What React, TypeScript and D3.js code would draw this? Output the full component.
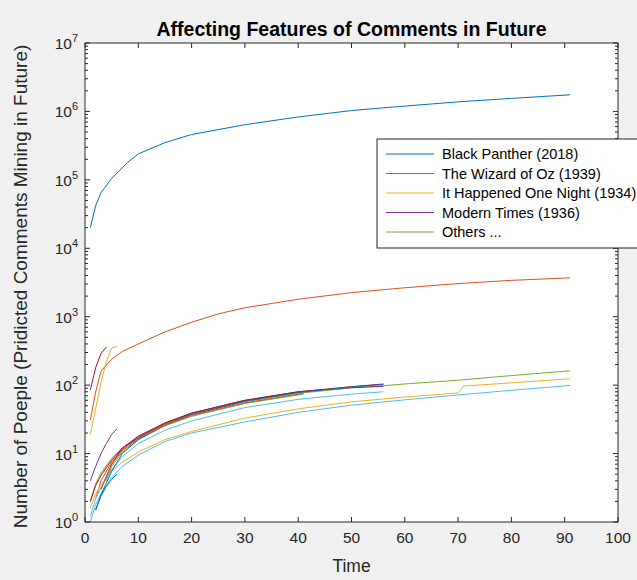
import React from 'react'
import * as d3 from 'd3'

const W = 637
const H = 580
const margin = {top: 43, right: 19, bottom: 58, left: 85}

const title = 'Affecting Features of Comments in Future'
const xLabel = 'Time'
const yLabel = 'Number of Poeple (Pridicted Comments Mining in Future)'

const xTicks = [0, 10, 20, 30, 40, 50, 60, 70, 80, 90, 100]
const yExponents = [0, 1, 2, 3, 4, 5, 6, 7]

const legendNames = [
    'Black Panther (2018)',
    'The Wizard of Oz (1939)',
    'It Happened One Night (1934)',
    'Modern Times (1936)',
    'Others ...',
]

// matlab default colour order
const colorOrder = ['#0072BD', '#D95319', '#EDB120', '#7E2F8E', '#77AC30', '#4DBEEE', '#A2142F']

type P = [number, number]

const blackPanther: P[] = [[1, 2e4], [2, 4.2e4], [3, 6.5e4], [5, 1.05e5], [6, 1.25e5], [8, 1.8e5], [10, 2.4e5], [15, 3.5e5], [20, 4.6e5], [30, 6.4e5], [40, 8.3e5], [50, 1.03e6], [56, 1.13e6], [70, 1.38e6], [80, 1.55e6], [91, 1.75e6]]
const wizardOfOz: P[] = [[1, 31], [2, 80], [3, 160], [5, 240], [7, 310], [10, 400], [15, 600], [20, 830], [25, 1100], [30, 1350], [40, 1800], [50, 2250], [60, 2650], [70, 3050], [80, 3400], [91, 3700]]
const happenedOneNight: P[] = [[1, 19], [2, 45], [3, 110], [4, 220], [5, 350], [6, 365]]
const modernTimes: P[] = [[1, 4], [2, 6.5], [3, 10], [4, 14], [5, 19], [6, 23]]
const others5: P[] = [[1, 2], [2, 3.6], [3, 5.2], [5, 8.5], [7, 12], [10, 17.5], [15, 27], [20, 37], [30, 57], [40, 76], [50, 91], [56, 98], [60, 104], [70, 118], [80, 138], [91, 162]]
const others6: P[] = [[1, 1], [2, 1.8], [3, 2.6], [5, 4.5], [7, 6.5], [10, 9.5], [15, 15], [20, 20], [30, 29], [40, 40], [50, 51], [60, 61], [70, 72], [80, 84], [91, 99]]
const others7: P[] = [[1, 85], [2, 180], [3, 290], [4, 360]]
const others8: P[] = [[2, 1.5], [3, 2.4], [4, 3.3], [5, 4.2], [6, 5]]
const others9: P[] = [[2, 2.2], [3, 4], [5, 7.5], [7, 11.5], [10, 17], [15, 27], [20, 38], [30, 59], [41, 81]]
const others10: P[] = [[1, 1.6], [2, 2.6], [3, 3.5], [5, 5.5], [7, 7.5], [10, 10.5], [15, 16], [20, 21], [30, 33], [40, 45], [50, 57], [60, 67], [70, 77], [71, 97], [80, 108], [91, 124]]
const others11: P[] = [[3, 3], [5, 7], [7, 12], [10, 17], [15, 28], [20, 39], [30, 60], [40, 80], [50, 92], [56, 96]]
const others12: P[] = [[4, 4], [5, 6.5], [7, 10.5], [10, 16], [15, 25.5], [20, 35], [30, 54], [41, 74]]
const others13: P[] = [[1, 1.2], [2, 2.2], [3, 3.2], [5, 5.8], [7, 9], [10, 14], [15, 22], [20, 30], [30, 47], [40, 62], [50, 74], [56, 80]]
const others14: P[] = [[1, 2], [2, 3.4], [3, 4.8], [5, 8], [7, 12], [10, 18], [15, 28], [20, 39], [30, 60], [40, 80], [50, 95], [56, 104]]
const others15: P[] = [[2, 1.5], [3, 2.5], [5, 5.5], [7, 10], [10, 16], [15, 26], [20, 37], [30, 58], [40, 78], [50, 94], [56, 102]]
const others16: P[] = [[3, 3], [5, 7], [7, 11], [10, 16.5], [15, 26], [20, 36], [30, 55], [41, 76]]

const series = [blackPanther, wizardOfOz, happenedOneNight, modernTimes, others5, others6, others7,
    others8, others9, others10, others11, others12, others13, others14, others15, others16]

const axisColor = '#262626'
const font = 'Liberation Sans, Arial, sans-serif'

export default function App() {
    const x = d3.scaleLinear().domain([0, 100]).range([margin.left, W - margin.right])
    const y = d3.scaleLog().domain([1, 1e7]).range([H - margin.bottom, margin.top])

    const line = d3.line<P>().x(d => x(d[0])).y(d => y(d[1]))

    const x0 = x(0), x1 = x(100), y0 = y(1), y1 = y(1e7)
    const minor = y.ticks().filter(v => Math.abs(Math.log10(v) - Math.round(Math.log10(v))) > 1e-6)

    const legendX = 377
    const legendY = 139
    const rowH = 19.5

    return (
        <svg width={W} height={H} style={{position: 'absolute', left: 0, top: 0}} fontFamily={font}>
            <rect width={W} height={H} fill="#f0f0f0" />
            <rect x={x0} y={y1} width={x1 - x0} height={y0 - y1} fill="#fff" />

            <g fill="none" strokeWidth={1}>
                {series.map((s, i) => (
                    <path key={i} d={line(s) || ''} stroke={colorOrder[i % colorOrder.length]} />
                ))}
            </g>

            {/* box + ticks */}
            <rect x={x0} y={y1} width={x1 - x0} height={y0 - y1} fill="none" stroke={axisColor} strokeWidth={1} />
            <g stroke={axisColor} strokeWidth={1}>
                {xTicks.map(t => (
                    <g key={t}>
                        <line x1={x(t)} x2={x(t)} y1={y0} y2={y0 - 5} />
                        <line x1={x(t)} x2={x(t)} y1={y1} y2={y1 + 5} />
                    </g>
                ))}
                {yExponents.map(e => (
                    <g key={e}>
                        <line x1={x0} x2={x0 + 5} y1={y(10 ** e)} y2={y(10 ** e)} />
                        <line x1={x1} x2={x1 - 5} y1={y(10 ** e)} y2={y(10 ** e)} />
                    </g>
                ))}
                {minor.map(v => (
                    <g key={v}>
                        <line x1={x0} x2={x0 + 3} y1={y(v)} y2={y(v)} />
                        <line x1={x1} x2={x1 - 3} y1={y(v)} y2={y(v)} />
                    </g>
                ))}
            </g>

            <g fill={axisColor} fontSize={15.5}>
                {xTicks.map(t => (
                    <text key={t} x={x(t)} y={y0 + 21} textAnchor="middle">{t}</text>
                ))}
                {yExponents.map(e => (
                    <text key={e} x={x0 - 7} y={y(10 ** e) + 6} textAnchor="end">
                        10<tspan fontSize={11} dy={-7}>{e}</tspan>
                    </text>
                ))}
            </g>

            <text x={(x0 + x1) / 2} y={36} textAnchor="middle" fontSize={19.5} fontWeight="bold" fill="#000">{title}</text>
            <text x={(x0 + x1) / 2} y={572} textAnchor="middle" fontSize={17.5} fill={axisColor}>{xLabel}</text>
            <text transform={`translate(27, ${(y0 + y1) / 2 + 4}) rotate(-90)`} textAnchor="middle" fontSize={19} fill={axisColor}>{yLabel}</text>

            {/* legend */}
            <rect x={legendX} y={legendY} width={300} height={109} fill="#fff" stroke={axisColor} strokeWidth={1} />
            {legendNames.map((name, i) => {
                const ly = legendY + 15 + i * rowH
                return (
                    <g key={name}>
                        <line x1={legendX + 9} x2={legendX + 57} y1={ly} y2={ly} stroke={colorOrder[i]} strokeWidth={1} />
                        <text x={legendX + 65} y={ly + 5} fontSize={14.5} fill="#000">{name}</text>
                    </g>
                )
            })}
        </svg>
    )
}
